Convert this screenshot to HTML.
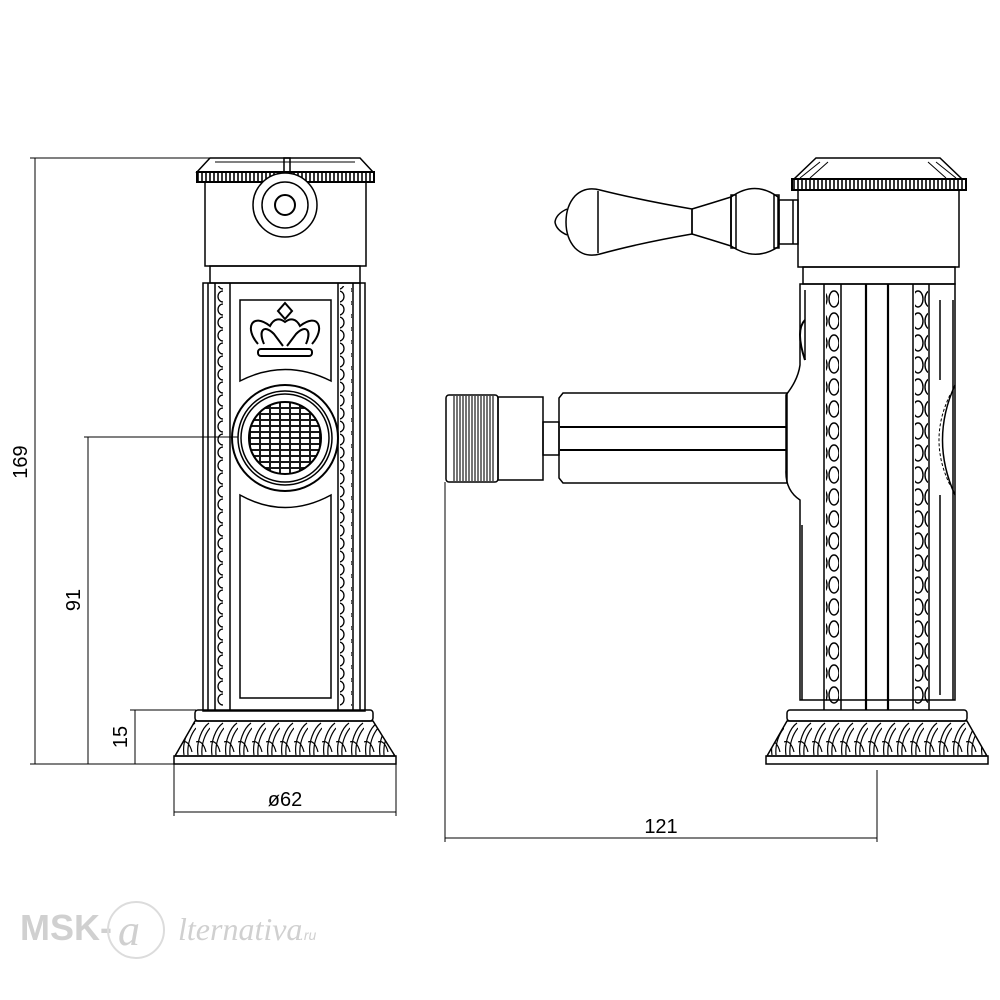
<!DOCTYPE html>
<html><head><meta charset="utf-8"><style>
html,body{margin:0;padding:0;background:#fff;width:1000px;height:1000px;overflow:hidden}
svg{display:block}
.d{font-family:"Liberation Sans",sans-serif;fill:#000}
</style></head><body>
<svg width="1000" height="1000" viewBox="0 0 1000 1000" xmlns="http://www.w3.org/2000/svg">
<defs>
<pattern id="beadL" x="0" y="290" width="12" height="13" patternUnits="userSpaceOnUse">
<path d="M7,1 A5,5.5 0 1 0 7,12" fill="none" stroke="#000" stroke-width="1.3"/>
</pattern>
<pattern id="beadR" x="0" y="290" width="12" height="13" patternUnits="userSpaceOnUse">
<path d="M3,1 A5,5.5 0 1 1 3,12" fill="none" stroke="#000" stroke-width="1.3"/>
</pattern>
<pattern id="bead2" x="0" y="288" width="12" height="22" patternUnits="userSpaceOnUse">
<ellipse cx="6" cy="11" rx="5" ry="8" fill="none" stroke="#000" stroke-width="1.4"/>
</pattern>
<pattern id="scal" x="0" y="722" width="14" height="34" patternUnits="userSpaceOnUse">
<path d="M2,33 C0,20 6,6 13,1 M6,33 C5,22 9,12 14,6 M0,20 C4,18 8,22 10,30" fill="none" stroke="#000" stroke-width="1.2"/>
</pattern>
<pattern id="knurl" x="0" y="0" width="3" height="10" patternUnits="userSpaceOnUse">
<line x1="1" y1="0" x2="1" y2="10" stroke="#000" stroke-width="1.1"/>
</pattern>
<pattern id="grid" x="0" y="0" width="10" height="6" patternUnits="userSpaceOnUse">
<rect x="0.5" y="0.5" width="9" height="5" fill="none" stroke="#000" stroke-width="0.9"/>
</pattern>
<pattern id="band" x="0" y="0" width="4" height="10" patternUnits="userSpaceOnUse">
<line x1="2" y1="0" x2="2" y2="10" stroke="#000" stroke-width="1.6"/>
</pattern>
<clipPath id="gridc"><circle cx="285" cy="438" r="36"/></clipPath>
</defs>
<g fill="none" stroke="#000" stroke-width="1.5">
<!-- LEFT VIEW -->
<path d="M210,158 L360,158 L373,172 L197,172 Z"/>
<line x1="215" y1="162" x2="355" y2="162" stroke-width="1"/>
<rect x="284" y="158" width="6" height="14"/>
<rect x="197" y="172" width="177" height="10" fill="url(#band)" stroke-width="2"/>
<rect x="205" y="182" width="161" height="84"/>
<circle cx="285" cy="205" r="32" fill="#fff"/>
<circle cx="285" cy="205" r="23"/>
<circle cx="285" cy="205" r="10" stroke-width="2"/>
<rect x="210" y="266" width="150" height="17"/>
<rect x="203" y="283" width="162" height="428"/>
<line x1="208" y1="283" x2="208" y2="711"/><line x1="360" y1="283" x2="360" y2="711"/>
<line x1="215" y1="283" x2="215" y2="711"/><line x1="353" y1="283" x2="353" y2="711"/>
<line x1="230" y1="283" x2="230" y2="711"/><line x1="338" y1="283" x2="338" y2="711"/>
<rect x="217" y="286" width="12" height="420" fill="url(#beadL)" stroke="none"/>
<rect x="340" y="286" width="12" height="420" fill="url(#beadR)" stroke="none"/>
<path d="M240,300 L331,300 L331,381 Q285,358 240,381 Z"/>
<path d="M258,344 C244,328 252,312 270,326 C274,318 280,318 285,322 C290,318 296,318 300,326 C318,312 326,328 312,344 M264,344 C258,330 264,324 274,334 L283,346 M306,344 C312,330 306,324 296,334 L287,346" stroke-width="2"/>
<path d="M285,303 L292,311 L285,319 L278,311 Z" stroke-width="2"/>
<rect x="258" y="349" width="54" height="7" rx="3" stroke-width="2"/>
<circle cx="285" cy="438" r="53" stroke-width="2"/>
<circle cx="285" cy="438" r="47"/>
<circle cx="285" cy="438" r="44"/>
<rect x="245" y="398" width="80" height="80" fill="url(#grid)" stroke="none" clip-path="url(#gridc)"/>
<circle cx="285" cy="438" r="36" stroke-width="2"/>
<path d="M240,495 Q285,520 331,495 L331,698 L240,698 Z"/>
<rect x="195" y="710" width="178" height="11" rx="3"/>
<path d="M195,721 L373,721 L395,756 L175,756 Z" fill="url(#scal)"/>
<rect x="174" y="756" width="222" height="8"/>
<!-- RIGHT VIEW -->
<path d="M816,158 L940,158 L962,179 L794,179 Z"/>
<path d="M820,162 L800,178 M828,162 L810,178 M936,162 L956,178 M928,162 L946,178" stroke-width="1"/>
<rect x="792" y="179" width="174" height="11" fill="url(#band)" stroke-width="2"/>
<rect x="798" y="190" width="161" height="77"/>
<rect x="803" y="267" width="152" height="17"/>
<path d="M800,284 L955,284 L955,700 L800,700 L800,500 Q785,490 786,470 L786,395 Q798,380 800,365 Z"/>
<line x1="805" y1="290" x2="805" y2="360"/>
<path d="M802,525 L802,700" />
<line x1="824" y1="284" x2="824" y2="710"/><line x1="841" y1="284" x2="841" y2="710"/>
<line x1="866" y1="284" x2="866" y2="710" stroke-width="2.2"/><line x1="888" y1="284" x2="888" y2="710" stroke-width="2.2"/>
<line x1="913" y1="284" x2="913" y2="710"/><line x1="929" y1="284" x2="929" y2="710"/>
<line x1="940" y1="300" x2="940" y2="380"/><line x1="940" y1="495" x2="940" y2="695"/>
<line x1="953" y1="300" x2="953" y2="700"/>
<rect x="826" y="288" width="13" height="418" fill="url(#bead2)" stroke="none"/>
<rect x="915" y="288" width="13" height="418" fill="url(#bead2)" stroke="none"/>
<path d="M955,385 Q930,440 955,495" />
<path d="M950,395 Q928,440 950,485" stroke-width="1" stroke-dasharray="3 2"/>
<path d="M805,320 Q795,330 805,360" stroke-width="2"/>
<rect x="787" y="710" width="180" height="11" rx="3"/>
<path d="M787,721 L967,721 L987,756 L767,756 Z" fill="url(#scal)"/>
<rect x="766" y="756" width="222" height="8"/>
<!-- handle -->
<path d="M567,209 Q556,214 555,222 Q556,230 567,235"/>
<path d="M600,190 Q640,200 692,209 L692,234 Q640,243 600,254 Q585,258 575,248 Q566,238 566,222 Q566,206 575,196 Q585,186 600,190 Z"/>
<line x1="598" y1="191" x2="598" y2="253"/>
<line x1="692" y1="209" x2="692" y2="234"/>
<path d="M692,209 Q712,203 731,197 L731,246 Q712,240 692,234"/>
<path d="M731,197 Q755,180 778,197 L778,247 Q755,262 731,246 Z"/>
<rect x="731" y="195" width="5" height="53"/><rect x="774" y="195" width="5" height="53"/>
<rect x="779" y="200" width="19" height="44"/>
<line x1="793" y1="200" x2="793" y2="244"/>
<!-- spout -->
<path d="M563,393 L787,393 L787,483 L563,483 L559,478 L559,398 Z"/>
<line x1="560" y1="427" x2="787" y2="427" stroke-width="2"/>
<line x1="560" y1="450" x2="787" y2="450" stroke-width="2"/>
<rect x="543" y="422" width="16" height="33"/>
<rect x="498" y="397" width="45" height="83"/>
<rect x="446" y="395" width="52" height="87" rx="3"/>
<rect x="453" y="396" width="42" height="85" fill="url(#knurl)" stroke="none"/>
<!-- DIMENSIONS -->
<g stroke-width="1">
<line x1="30" y1="158" x2="210" y2="158"/>
<line x1="30" y1="764" x2="174" y2="764"/>
<line x1="35" y1="158" x2="35" y2="764"/>
<line x1="84" y1="437" x2="238" y2="437"/>
<line x1="88" y1="437" x2="88" y2="764"/>
<line x1="130" y1="710" x2="196" y2="710"/>
<line x1="135" y1="710" x2="135" y2="764"/>
<line x1="174" y1="764" x2="174" y2="816"/>
<line x1="396" y1="764" x2="396" y2="816"/>
<line x1="174" y1="812" x2="396" y2="812"/>
<line x1="445" y1="482" x2="445" y2="842"/>
<line x1="877" y1="770" x2="877" y2="842"/>
<line x1="445" y1="838" x2="877" y2="838"/>
</g>
</g>
<g font-size="20" class="d">
<text class="d" transform="translate(27,462) rotate(-90)" text-anchor="middle">169</text>
<text class="d" transform="translate(80,600) rotate(-90)" text-anchor="middle">91</text>
<text class="d" transform="translate(127,737) rotate(-90)" text-anchor="middle">15</text>
<text class="d" x="285" y="806" text-anchor="middle">ø62</text>
<text class="d" x="661" y="833" text-anchor="middle">121</text>
</g>
<g>
<text x="20" y="940" style="fill:#d0d0d0;font-family:'Liberation Sans',sans-serif;font-size:36px;font-weight:bold">MSK-</text>
<circle cx="136" cy="930" r="28" fill="none" stroke="#dcdcdc" stroke-width="2"/>
<text x="118" y="945" style="fill:#d0d0d0;font-family:'Liberation Serif',serif;font-size:44px;font-style:italic">a</text>
<text x="178" y="940" style="fill:#d0d0d0;font-family:'Liberation Serif',serif;font-size:32px;font-style:italic">lternativa</text>
<text x="300" y="940" style="fill:#d0d0d0;font-family:'Liberation Sans',sans-serif;font-size:14px;font-style:italic">.ru</text>
</g>
</svg>
</body></html>
